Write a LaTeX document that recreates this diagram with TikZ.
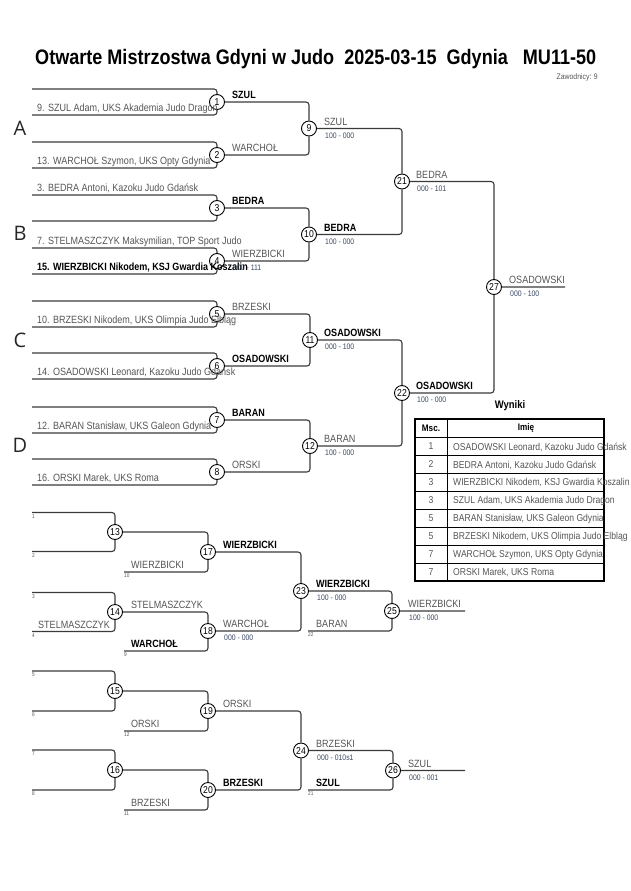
\documentclass[tikz,border=0pt]{standalone}
\usepackage{fontspec}
\setmainfont[FakeStretch=0.86]{Liberation Sans}
\newfontfamily\poolfont{Open Sans}
\definecolor{linegray}{HTML}{3A3A3A}
\definecolor{namegray}{HTML}{555555}
\definecolor{scoreblue}{HTML}{3B4A63}

\begin{document}
\begin{tikzpicture}[x=1pt,y=-1pt,
  bout/.style={circle,draw,fill=white,line width=0.9pt,minimum size=15pt,inner sep=0pt,font=\fontsize{10}{10}\selectfont},
  player/.style={anchor=base west,inner sep=0pt,text=namegray,font=\fontsize{10.5}{12}\selectfont},
  winner/.style={anchor=base west,inner sep=0pt,font=\bfseries\fontsize{10.5}{12}\selectfont},
  result/.style={anchor=base west,inner sep=0pt,text=scoreblue,font=\fontsize{8}{9}\selectfont},
  seedno/.style={anchor=base west,inner sep=0pt,text=namegray,font=\fontsize{5.5}{6}\selectfont},
  pool/.style={inner sep=0pt,text=black!85,font=\poolfont\fontsize{20}{20}\selectfont},
  cell/.style={inner sep=0pt,text=namegray,font=\fontsize{10}{12}\selectfont},
  wire/.style={draw=linegray,line width=1.1pt,rounded corners=3pt}]
  \useasboundingbox (0,0) rectangle (630,891);
  \clip (0,0) rectangle (630,891);

  % header
  \node[anchor=base west,inner sep=0pt,font=\bfseries\fontsize{21}{24}\selectfont] (title) at (35,64)
    {Otwarte Mistrzostwa Gdyni w Judo\ \ 2025-03-15\ \ Gdynia\ \ \ MU11-50};
  \node[anchor=base east,inner sep=0pt,text=namegray,font=\fontsize{8}{9}\selectfont] (count) at (598,79) {Zawodnicy: 9};

  % pools
  \node[pool] (poolA) at (20,128) {A};
  \node[pool] (poolB) at (20,233) {B};
  \node[pool] (poolC) at (20,340) {C};
  \node[pool] (poolD) at (20,445) {D};

  % main bracket bouts
  \node[bout] (m1) at (217,102) {1};
  \node[bout] (m2) at (217,155) {2};
  \node[bout] (m3) at (217,208) {3};
  \node[bout] (m4) at (217,261) {4};
  \node[bout] (m5) at (217,314) {5};
  \node[bout] (m6) at (217,366) {6};
  \node[bout] (m7) at (217,420) {7};
  \node[bout] (m8) at (217,472) {8};
  \node[bout] (m9) at (309,128.5) {9};
  \node[bout] (m10) at (309,234.5) {10};
  \node[bout] (m11) at (310,340) {11};
  \node[bout] (m12) at (310,446) {12};
  \node[bout] (m21) at (402,181.5) {21};
  \node[bout] (m22) at (402,393) {22};
  \node[bout] (m27) at (494,287) {27};

  % repechage bouts
  \node[bout] (m13) at (115,532) {13};
  \node[bout] (m14) at (115,612) {14};
  \node[bout] (m17) at (208,552) {17};
  \node[bout] (m18) at (208,631) {18};
  \node[bout] (m23) at (301,591) {23};
  \node[bout] (m25) at (392,611) {25};
  \node[bout] (m15) at (115,691) {15};
  \node[bout] (m16) at (115,770) {16};
  \node[bout] (m19) at (208,711) {19};
  \node[bout] (m20) at (208,790) {20};
  \node[bout] (m24) at (301,750.5) {24};
  \node[bout] (m26) at (393,770.5) {26};

  % free line ends
  \coordinate (a1) at (32,89);   \coordinate (b1) at (32,115);
  \coordinate (a2) at (32,142);  \coordinate (b2) at (32,168);
  \coordinate (a3) at (32,195);  \coordinate (b3) at (32,221);
  \coordinate (a4) at (32,248);  \coordinate (b4) at (32,274);
  \coordinate (a5) at (32,301);  \coordinate (b5) at (32,327);
  \coordinate (a6) at (32,353);  \coordinate (b6) at (32,379);
  \coordinate (a7) at (32,407);  \coordinate (b7) at (32,433);
  \coordinate (a8) at (32,459);  \coordinate (b8) at (32,485);
  \coordinate (a13) at (32,512.5); \coordinate (b13) at (32,551.5);
  \coordinate (a14) at (32,592.5); \coordinate (b14) at (32,631.5);
  \coordinate (a15) at (32,671);   \coordinate (b15) at (32,711);
  \coordinate (a16) at (32,750);   \coordinate (b16) at (32,790);
  \coordinate (b17) at (124,572);
  \coordinate (b18) at (124,651);
  \coordinate (b19) at (124,731);
  \coordinate (b20) at (124,810);
  \coordinate (b25) at (308,631);
  \coordinate (b26) at (308,790);
  \coordinate (e27) at (565,287);
  \coordinate (e25) at (465,611);
  \coordinate (e26) at (465,770.5);

  \path[wire]
    (a1) -| (m1)  (b1) -| (m1)
    (a2) -| (m2)  (b2) -| (m2)
    (a3) -| (m3)  (b3) -| (m3)
    (a4) -| (m4)  (b4) -| (m4)
    (a5) -| (m5)  (b5) -| (m5)
    (a6) -| (m6)  (b6) -| (m6)
    (a7) -| (m7)  (b7) -| (m7)
    (a8) -| (m8)  (b8) -| (m8)
    (m1) -| (m9)  (m2) -| (m9)
    (m3) -| (m10) (m4) -| (m10)
    (m5) -| (m11) (m6) -| (m11)
    (m7) -| (m12) (m8) -| (m12)
    (m9) -| (m21) (m10) -| (m21)
    (m11) -| (m22) (m12) -| (m22)
    (m21) -| (m27) (m22) -| (m27)
    (m27) -- (e27);

  \path[wire]
    (a13) -| (m13) (b13) -| (m13)
    (a14) -| (m14) (b14) -| (m14)
    (m13) -| (m17) (b17) -| (m17)
    (m14) -| (m18) (b18) -| (m18)
    (m17) -| (m23) (m18) -| (m23)
    (m23) -| (m25) (b25) -| (m25)
    (m25) -- (e25)
    (a15) -| (m15) (b15) -| (m15)
    (a16) -| (m16) (b16) -| (m16)
    (m15) -| (m19) (b19) -| (m19)
    (m16) -| (m20) (b20) -| (m20)
    (m19) -| (m24) (m20) -| (m24)
    (m24) -| (m26) (b26) -| (m26)
    (m26) -- (e26);

  % entries
  \node[player] (p9) at (37,111.5) {9. SZUL Adam, UKS Akademia Judo Dragon};
  \node[player] (p13) at (37,164.5) {13. WARCHOŁ Szymon, UKS Opty Gdynia};
  \node[player] (p3) at (37,191.5) {3. BEDRA Antoni, Kazoku Judo Gdańsk};
  \node[player] (p7) at (37,244.5) {7. STELMASZCZYK Maksymilian, TOP Sport Judo};
  \node[winner] (p15) at (37,270.5) {15. WIERZBICKI Nikodem, KSJ Gwardia Koszalin};
  \node[player] (p10) at (37,323.5) {10. BRZESKI Nikodem, UKS Olimpia Judo Elbląg};
  \node[player] (p14) at (37,375.5) {14. OSADOWSKI Leonard, Kazoku Judo Gdańsk};
  \node[player] (p12) at (37,429.5) {12. BARAN Stanisław, UKS Galeon Gdynia};
  \node[player] (p16) at (37,481.5) {16. ORSKI Marek, UKS Roma};

  % main bracket results
  \node[winner] (o1) at (232,98.5) {SZUL};
  \node[player] (o2) at (232,151.5) {WARCHOŁ};
  \node[winner] (o3) at (232,204.5) {BEDRA};
  \node[player] (o4) at (232,257.5) {WIERZBICKI};
  \node[result] (s4) at (233,270.5) {000 - 111};
  \node[player] (o5) at (232,310.5) {BRZESKI};
  \node[winner] (o6) at (232,362.5) {OSADOWSKI};
  \node[winner] (o7) at (232,416.5) {BARAN};
  \node[player] (o8) at (232,468.5) {ORSKI};
  \node[player] (o9) at (324,125) {SZUL};
  \node[result] (s9) at (325,138) {100 - 000};
  \node[winner] (o10) at (324,231) {BEDRA};
  \node[result] (s10) at (325,244) {100 - 000};
  \node[winner] (o11) at (324,336.5) {OSADOWSKI};
  \node[result] (s11) at (325,349.5) {000 - 100};
  \node[player] (o12) at (324,442.5) {BARAN};
  \node[result] (s12) at (325,455.5) {100 - 000};
  \node[player] (o21) at (416,178) {BEDRA};
  \node[result] (s21) at (417,191) {000 - 101};
  \node[winner] (o22) at (416,389.5) {OSADOWSKI};
  \node[result] (s22) at (417,402.5) {100 - 000};
  \node[player] (o27) at (509,283.5) {OSADOWSKI};
  \node[result] (s27) at (510,296.5) {000 - 100};

  % repechage entries
  \node[seedno] (q1) at (32,518) {1};
  \node[seedno] (q2) at (32,557) {2};
  \node[seedno] (q3) at (32,598) {3};
  \node[seedno] (q4) at (32,637) {4};
  \node[seedno] (q5) at (32,676.5) {5};
  \node[seedno] (q6) at (32,716.5) {6};
  \node[seedno] (q7) at (32,755.5) {7};
  \node[seedno] (q8) at (32,795.5) {8};
  \node[seedno] (q10) at (124,577.5) {10};
  \node[seedno] (q9) at (124,656.5) {9};
  \node[seedno] (q12) at (124,736.5) {12};
  \node[seedno] (q11) at (124,815.5) {11};
  \node[seedno] (q22) at (308,636.5) {22};
  \node[seedno] (q21) at (308,795.5) {21};
  \node[player] (r14) at (38,628) {STELMASZCZYK};
  \node[player] (r17) at (131,568.5) {WIERZBICKI};
  \node[winner] (r18) at (131,647.5) {WARCHOŁ};
  \node[player] (r19) at (131,727.5) {ORSKI};
  \node[player] (r20) at (131,806.5) {BRZESKI};
  \node[player] (r25) at (316,627.5) {BARAN};
  \node[winner] (r26) at (316,786.5) {SZUL};

  % repechage results
  \node[player] (o14) at (131,608.5) {STELMASZCZYK};
  \node[winner] (o17) at (223,548.5) {WIERZBICKI};
  \node[player] (o18) at (223,627.5) {WARCHOŁ};
  \node[result] (s18) at (224,640.5) {000 - 000};
  \node[winner] (o23) at (316,587.5) {WIERZBICKI};
  \node[result] (s23) at (317,600.5) {100 - 000};
  \node[player] (o25) at (408,607.5) {WIERZBICKI};
  \node[result] (s25) at (409,620.5) {100 - 000};
  \node[player] (o19) at (223,707.5) {ORSKI};
  \node[winner] (o20) at (223,786.5) {BRZESKI};
  \node[player] (o24) at (316,747) {BRZESKI};
  \node[result] (s24) at (317,760) {000 - 010s1};
  \node[player] (o26) at (408,767) {SZUL};
  \node[result] (s26) at (409,780) {000 - 001};

  % results table
  \node[inner sep=0pt,font=\bfseries\fontsize{11}{12}\selectfont] (wyniki) at (510,406) {Wyniki};
  \draw[line width=0.7pt]
    (447,419) -- (447,581)
    (415,437.3) -- (604,437.3)
    (415,455.3) -- (604,455.3)
    (415,473.2) -- (604,473.2)
    (415,491.2) -- (604,491.2)
    (415,509.1) -- (604,509.1)
    (415,527.1) -- (604,527.1)
    (415,545.1) -- (604,545.1)
    (415,563.0) -- (604,563.0);
  \draw[line width=1.6pt] (415,419) rectangle (604,581);
  \node[inner sep=0pt,font=\bfseries\fontsize{9.5}{11}\selectfont] (hmsc) at (431,428.3) {Msc.};
  \node[inner sep=0pt,font=\bfseries\fontsize{9.5}{11}\selectfont] (himie) at (526,428.3) {Imię};
  \node[cell] (c1) at (431,446.3) {1};
  \node[cell] (c2) at (431,464.3) {2};
  \node[cell] (c3) at (431,482.2) {3};
  \node[cell] (c4) at (431,500.2) {3};
  \node[cell] (c5) at (431,518.1) {5};
  \node[cell] (c6) at (431,536.1) {5};
  \node[cell] (c7) at (431,554.1) {7};
  \node[cell] (c8) at (431,572.0) {7};
  \node[cell,anchor=base west] (t1) at (453,450) {OSADOWSKI Leonard, Kazoku Judo Gdańsk};
  \node[cell,anchor=base west] (t2) at (453,468) {BEDRA Antoni, Kazoku Judo Gdańsk};
  \node[cell,anchor=base west] (t3) at (453,485.9) {WIERZBICKI Nikodem, KSJ Gwardia Koszalin};
  \node[cell,anchor=base west] (t4) at (453,503.9) {SZUL Adam, UKS Akademia Judo Dragon};
  \node[cell,anchor=base west] (t5) at (453,521.8) {BARAN Stanisław, UKS Galeon Gdynia};
  \node[cell,anchor=base west] (t6) at (453,539.8) {BRZESKI Nikodem, UKS Olimpia Judo Elbląg};
  \node[cell,anchor=base west] (t7) at (453,557.8) {WARCHOŁ Szymon, UKS Opty Gdynia};
  \node[cell,anchor=base west] (t8) at (453,575.7) {ORSKI Marek, UKS Roma};
\end{tikzpicture}
\end{document}
